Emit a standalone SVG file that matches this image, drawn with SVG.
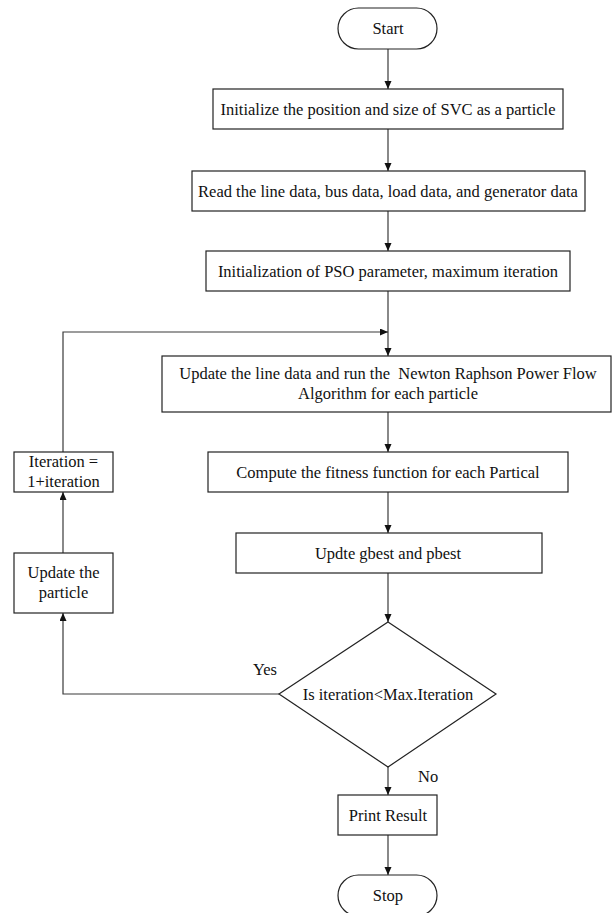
<svg xmlns="http://www.w3.org/2000/svg" width="612" height="913" viewBox="0 0 612 913">
<style>
.box{fill:#fff;stroke:#222;stroke-width:1.2}
.t{font-family:"Liberation Serif","Times New Roman",serif;font-size:16.5px;fill:#111;text-anchor:middle;white-space:pre}
.l{font-family:"Liberation Serif","Times New Roman",serif;font-size:16.5px;fill:#111}
.c{fill:none;stroke:#3a3a3a;stroke-width:1.2}
</style>
<defs>
<marker id="ah" markerUnits="userSpaceOnUse" markerWidth="9" markerHeight="8" refX="8" refY="3.5" orient="auto">
<path d="M0,0 L8,3.5 L0,7 z" fill="#111"/>
</marker>
</defs>
<rect width="612" height="913" fill="#fff"/>
<g id="connectors">
<line class="c" x1="388" y1="49" x2="388" y2="89" marker-end="url(#ah)"/>
<line class="c" x1="388" y1="129" x2="388" y2="171" marker-end="url(#ah)"/>
<line class="c" x1="388" y1="211" x2="388" y2="251" marker-end="url(#ah)"/>
<line class="c" x1="388" y1="291" x2="388" y2="356" marker-end="url(#ah)"/>
<polyline class="c" points="63,452 63,332 388,332" marker-end="url(#ah)"/>
<line class="c" x1="388" y1="412" x2="388" y2="452" marker-end="url(#ah)"/>
<line class="c" x1="388" y1="492" x2="388" y2="533" marker-end="url(#ah)"/>
<line class="c" x1="388" y1="573" x2="388" y2="622" marker-end="url(#ah)"/>
<polyline class="c" points="279,694 63,694 63,613" marker-end="url(#ah)"/>
<line class="c" x1="63" y1="553" x2="63" y2="492" marker-end="url(#ah)"/>
<line class="c" x1="388" y1="767" x2="388" y2="795" marker-end="url(#ah)"/>
<line class="c" x1="388" y1="835" x2="388" y2="875" marker-end="url(#ah)"/>
<text class="l" x="253" y="675">Yes</text>
<text class="l" x="418" y="782">No</text>
</g>
<g id="start">
<rect class="box" x="338" y="8" width="99" height="41" rx="20.5"/>
<text class="t" x="388" y="34">Start</text>
</g>
<g id="init-svc">
<rect class="box" x="213" y="89" width="350" height="40"/>
<text class="t" x="388" y="115">Initialize the position and size of SVC as a particle</text>
</g>
<g id="read-data">
<rect class="box" x="192" y="171" width="393" height="40"/>
<text class="t" x="388" y="197">Read the line data, bus data, load data, and generator data</text>
</g>
<g id="init-pso">
<rect class="box" x="206" y="251" width="364" height="40"/>
<text class="t" x="388" y="277">Initialization of PSO parameter, maximum iteration</text>
</g>
<g id="newton-raphson">
<rect class="box" x="162" y="356" width="449" height="56"/>
<text class="t" x="388" y="379">Update the line data and run the  Newton Raphson Power Flow</text>
<text class="t" x="388" y="399">Algorithm for each particle</text>
</g>
<g id="fitness">
<rect class="box" x="208" y="452" width="360" height="40"/>
<text class="t" x="388" y="478">Compute the fitness function for each Partical</text>
</g>
<g id="gbest">
<rect class="box" x="236" y="533" width="306" height="40"/>
<text class="t" x="388" y="559">Updte gbest and pbest</text>
</g>
<g id="decision">
<polygon class="box" points="388,622 496,694 388,767 279,694"/>
<text class="t" x="388" y="700">Is iteration&lt;Max.Iteration</text>
</g>
<g id="update-particle">
<rect class="box" x="14" y="553" width="99" height="60"/>
<text class="t" x="63.5" y="578">Update the</text>
<text class="t" x="63.5" y="598">particle</text>
</g>
<g id="iteration">
<rect class="box" x="14" y="452" width="99" height="40"/>
<text class="t" x="63.5" y="467">Iteration =</text>
<text class="t" x="63.5" y="487">1+iteration</text>
</g>
<g id="print-result">
<rect class="box" x="338" y="795" width="99" height="40"/>
<text class="t" x="388" y="821">Print Result</text>
</g>
<g id="stop">
<rect class="box" x="338" y="875" width="99" height="41" rx="20.5"/>
<text class="t" x="388" y="901">Stop</text>
</g>
</svg>
